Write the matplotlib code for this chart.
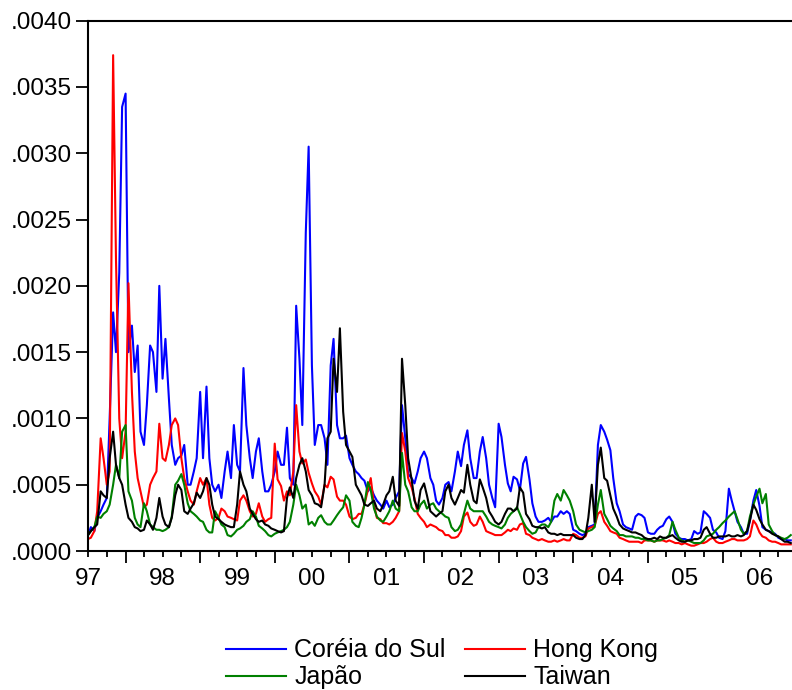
import numpy as np
import pandas as pd
import matplotlib
matplotlib.use("Agg")
import matplotlib.pyplot as plt
import matplotlib.dates as mdates
from matplotlib.ticker import FuncFormatter, MultipleLocator, NullFormatter

plt.rcParams['font.family'] = ['Liberation Sans', 'DejaVu Sans']

# semi-monthly observation dates (1st and 15th of each month)
dates = pd.date_range('1997-07-01', periods=227, freq='SMS')

# values in units of 1e-4
korea = [
    1.2, 1.8, 1.5, 2.5, 3.0, 3.5, 4.0, 10, 18, 15,
    21, 33.5, 34.5, 15, 17, 13.5, 15.5, 9, 8, 11,
    15.5, 15, 12, 20, 13, 16, 11.5, 8, 6.5, 7,
    7.2, 8, 5, 5, 6, 7, 12, 7, 12.4, 7,
    5, 4.5, 5, 4, 6, 7.5, 5.5, 9.5, 6.5, 6,
    13.8, 9.5, 7, 5.5, 7.5, 8.5, 6, 4.5, 4.5, 5,
    6, 7.5, 6.5, 6.5, 9.3, 5.5, 5, 18.5, 14.5, 9.5,
    24, 30.5, 14, 8, 9.5, 9.5, 8.5, 6.5, 14, 16,
    9.5, 8.5, 8.5, 8.7, 7, 6.5, 6, 5.8, 5.5, 5.3,
    4.5, 4.8, 4.2, 3.8, 3.5, 3.2, 3.8, 3.3, 3.5, 4.0,
    4.5, 11, 8.5, 5.8, 5.5, 5.1, 6.0, 7.0, 7.5, 7.0,
    5.5, 5.0, 3.8, 3.5, 4.0, 5.0, 5.2, 4.5, 6.0, 7.5,
    6.4, 8.0, 9.1, 7.0, 5.5, 5.5, 7.5, 8.6, 7.0, 5.0,
    4.0, 3.3, 9.6, 8.6, 6.5, 5.1, 4.5, 5.6, 5.4, 4.6,
    6.6, 7.1, 5.4, 3.6, 2.6, 2.2, 2.2, 2.3, 2.5, 2.2,
    2.6, 2.6, 3.0, 2.8, 3.0, 2.8, 1.6, 1.5, 1.3, 1.2,
    1.3, 1.8, 1.9, 2.0, 8.0, 9.5, 9.0, 8.4, 7.6, 5.5,
    3.6, 3.0, 2.0, 1.8, 1.7, 1.6, 2.6, 2.8, 2.7, 2.5,
    1.4, 1.3, 1.3, 1.6, 1.8, 1.9, 2.4, 2.6, 2.2, 1.3,
    1.0, 0.9, 0.9, 0.8, 0.9, 1.5, 1.3, 1.4, 3.0, 2.8,
    2.5, 1.6, 1.4, 1.0, 0.9, 1.5, 4.7, 3.8, 3.0, 2.2,
    1.8, 1.3, 1.3, 2.3, 3.8, 4.6, 3.4, 1.8, 1.6, 1.5,
    1.4, 1.3, 1.0, 0.9, 0.9, 0.8, 0.8,
]

hong_kong = [
    0.9, 1.0, 1.5, 3, 8.5, 7, 5, 6, 37.4, 22,
    10, 7, 9, 20.2, 12, 7.5, 5.5, 4.5, 3.3, 3.5,
    5, 5.5, 6, 9.6, 7, 6.8, 8, 9.5, 10, 9.5,
    7, 5.5, 4.5, 3.8, 3.5, 4.5, 5.5, 5, 5.5, 3.5,
    2.5, 2.3, 2.5, 3.2, 3.0, 2.6, 2.5, 2.4, 2.3, 3.8,
    4.2, 3.8, 3.0, 2.6, 2.8, 3.6, 2.6, 2.2, 2.4, 2.5,
    8.1, 5.4, 4.9, 3.8, 4.5, 4.2, 6, 11, 7.5, 6.6,
    6.9, 5.9, 5.1, 4.5, 4.1, 3.5, 5.0, 4.8, 5.6, 5.4,
    4.1, 3.8, 3.8, 3.5, 2.6, 2.4, 2.5, 2.8, 2.8, 3.5,
    4.6, 5.5, 3.5, 2.5, 2.4, 2.1, 2.1, 2.0, 2.2, 2.5,
    3.0, 8.9, 7.5, 5.5, 4.8, 4.0, 2.8, 2.5, 2.2, 1.8,
    2.0, 1.9, 1.8, 1.6, 1.5, 1.2, 1.2, 1.0, 1.0, 1.1,
    1.5, 2.6, 2.9, 2.2, 1.9, 2.0, 2.6, 2.2, 1.5, 1.4,
    1.3, 1.2, 1.2, 1.2, 1.4, 1.6, 1.5, 1.7, 1.6, 2.0,
    2.1, 1.3, 1.2, 1.0, 0.9, 0.8, 0.9, 0.8, 0.7, 0.7,
    0.8, 0.7, 0.8, 0.9, 0.8, 0.8, 1.3, 1.2, 1.0, 1.0,
    1.1, 1.7, 1.8, 1.9, 2.8, 3.0, 2.2, 1.9, 1.5, 1.4,
    1.3, 1.0, 0.9, 0.8, 0.7, 0.7, 0.7, 0.7, 0.6, 0.8,
    0.8, 0.8, 0.7, 0.8, 0.8, 0.8, 0.7, 0.8, 0.7, 0.6,
    0.6, 0.5, 0.6, 0.5, 0.4, 0.4, 0.5, 0.6, 0.6, 0.7,
    0.9, 1.0, 0.7, 0.6, 0.6, 0.7, 0.8, 0.9, 0.9, 0.8,
    0.8, 0.8, 0.9, 1.1, 2.3, 2.0, 1.4, 1.1, 1.0, 0.8,
    0.7, 0.7, 0.6, 0.5, 0.5, 0.5, 0.5,
]

japao = [
    1.2, 1.5, 1.8, 2.6, 2.5, 2.8, 3.0, 3.5, 5.0, 6.5,
    5.5, 9.0, 9.5, 4.5, 3.8, 2.5, 2.0, 1.8, 3.6, 3.0,
    2.0, 1.8, 1.6, 1.6, 1.5, 1.6, 1.8, 2.6, 5.0, 5.3,
    5.8, 5.0, 3.6, 3.0, 2.8, 2.6, 2.3, 2.2, 1.6, 1.4,
    1.4, 3.0, 2.5, 2.0, 1.8, 1.2, 1.1, 1.3, 1.6, 1.7,
    1.9, 2.2, 2.4, 3.0, 2.6, 1.9, 1.7, 1.5, 1.2, 1.1,
    1.3, 1.4, 1.5, 1.6, 1.8, 2.2, 3.5, 5.0, 4.2, 3.2,
    3.5, 2.0, 2.2, 1.9, 2.5, 2.7, 2.2, 2.0, 2.0, 2.3,
    2.7, 3.0, 3.3, 4.2, 3.8, 2.2, 1.9, 1.8, 2.5, 3.5,
    5.2, 4.6, 3.2, 2.6, 2.3, 2.2, 2.6, 3.0, 3.8, 3.2,
    3.0, 7.4, 5.0, 4.5, 3.3, 3.0, 3.0, 3.5, 3.8, 3.2,
    3.5, 3.6, 3.2, 3.0, 2.8, 2.6, 2.5, 1.8, 1.5, 1.6,
    2.0, 2.8, 3.8, 3.2, 3.0, 3.0, 3.0, 3.0, 2.6, 2.2,
    2.0, 1.9, 1.8, 1.7, 2.0, 2.5, 2.8, 3.0, 3.3, 2.8,
    2.2, 1.8, 1.5, 1.3, 1.4, 1.8, 2.0, 2.0, 1.8, 2.2,
    3.8, 4.3, 3.8, 4.6, 4.2, 3.8, 3.0, 2.0, 1.6, 1.5,
    1.4, 1.5, 1.6, 1.8, 3.5, 4.6, 2.8, 2.4, 1.9, 1.7,
    1.5, 1.2, 1.2, 1.1, 1.1, 1.1, 1.0, 1.0, 0.9, 0.9,
    0.8, 0.8, 0.7, 0.8, 0.8, 0.9, 1.0, 1.2, 2.2, 1.6,
    1.0, 0.8, 0.7, 0.8, 0.7, 0.6, 0.6, 0.6, 0.8, 1.1,
    1.2, 1.3, 1.6, 1.8, 2.1, 2.3, 2.6, 2.8, 3.0, 2.4,
    1.6, 1.3, 1.5, 2.6, 3.5, 4.1, 4.7, 3.6, 4.3, 2.0,
    1.5, 1.2, 1.1, 1.0, 0.9, 1.0, 1.2,
]

taiwan = [
    1.2, 1.5, 1.8, 2.0, 4.5, 4.2, 4.0, 7.0, 9.0, 6.5,
    5.5, 5.0, 3.5, 2.5, 2.2, 1.8, 1.7, 1.5, 1.6, 2.3,
    2.0, 1.6, 2.5, 4.0, 2.6, 2.0, 1.8, 2.5, 4.2, 5.0,
    4.6, 3.0, 2.8, 3.2, 3.6, 4.4, 4.0, 4.5, 5.5, 5.0,
    3.5, 2.6, 2.4, 2.2, 2.0, 1.9, 1.8, 1.8, 3.5, 6.0,
    5.0, 4.5, 3.2, 2.8, 2.4, 2.2, 2.3, 2.0, 1.9, 1.7,
    1.6, 1.5, 1.4, 1.5, 4.0, 4.8, 4.0, 5.5, 6.5, 7.0,
    6.0, 4.6, 4.2, 3.6, 3.5, 3.3, 5.0, 8.5, 9.0, 14.5,
    12.0, 16.8, 10.5, 8.0, 7.5, 7.1, 5.0, 4.6, 4.2, 3.5,
    3.4, 3.6, 3.8, 3.2, 3.0, 3.5, 4.2, 4.5, 5.6, 3.8,
    3.4, 14.5, 11.0, 7.0, 5.4, 3.8, 3.2, 4.6, 5.1, 4.2,
    3.0, 2.8, 2.6, 2.8, 3.0, 4.5, 5.0, 4.0, 3.5, 4.0,
    4.6, 4.4, 6.5, 5.0, 3.8, 3.6, 5.4, 4.8, 4.0, 3.0,
    2.6, 2.2, 2.0, 2.2, 2.8, 3.2, 3.2, 3.0, 3.2, 4.8,
    4.4, 2.8, 2.4, 1.9, 1.8, 1.8, 1.7, 1.8, 1.4, 1.3,
    1.3, 1.2, 1.3, 1.2, 1.2, 1.2, 1.2, 1.0, 0.9, 0.9,
    1.2, 2.5, 5.0, 2.2, 6.5, 7.8, 5.5, 5.3, 4.2, 3.2,
    2.6, 2.0, 1.7, 1.6, 1.5, 1.4, 1.4, 1.3, 1.2, 1.0,
    0.9, 0.9, 1.0, 0.9, 1.1, 1.0, 1.0, 1.1, 1.2, 1.0,
    0.8, 0.7, 0.7, 0.8, 0.8, 0.9, 0.9, 1.0, 1.6, 1.8,
    1.3, 1.0, 1.0, 1.1, 1.1, 1.1, 1.2, 1.1, 1.1, 1.2,
    1.1, 1.2, 1.5, 2.3, 3.5, 3.1, 2.4, 2.0, 1.6, 1.5,
    1.3, 1.2, 1.1, 0.9, 0.7, 0.7, 0.6,
]

SCALE = 1e-4
series_names = ['Coréia do Sul', 'Hong Kong', 'Japão', 'Taiwan']
series_values = [korea, hong_kong, japao, taiwan]
series_colors = ['#0000FF', '#FF0000', '#008000', '#000000']

fig = plt.figure(figsize=(7.92, 6.9), dpi=100)
ax = fig.add_axes([88 / 792, 139 / 690, 704 / 792, 530.3 / 690])

handles = {}
for name, vals, col in zip(series_names, series_values, series_colors):
    ln, = ax.plot(dates, np.array(vals) * SCALE, color=col, lw=1.5, label=name)
    handles[name] = ln

ax.set_ylim(0, 0.004)
ax.set_xlim(pd.Timestamp('1997-07-01'), pd.Timestamp('2006-12-07'))

ax.yaxis.set_major_locator(MultipleLocator(0.0005))
ax.yaxis.set_major_formatter(FuncFormatter(lambda v, p: f"{v:.4f}"[1:] if v >= 0 else f"{v:.4f}"))

ax.xaxis.set_major_locator(mdates.YearLocator(1, month=1, day=1))
ax.xaxis.set_major_formatter(NullFormatter())
ax.xaxis.set_minor_locator(mdates.MonthLocator(bymonth=[4, 7, 10], bymonthday=1))


def minor_fmt(x, pos):
    d = mdates.num2date(x)
    return d.strftime('%y') if d.month == 7 else ''


ax.xaxis.set_minor_formatter(FuncFormatter(minor_fmt))

ax.tick_params(axis='x', which='major', length=8.6, width=1.3, direction='out')
ax.tick_params(axis='x', which='minor', length=4.3, width=1.3, direction='out',
               labelsize=17.5, pad=8)
ax.tick_params(axis='y', which='major', length=8.6, width=1.3, direction='out',
               labelsize=17.5, pad=3, right=False)

for s in ['left', 'bottom', 'top']:
    ax.spines[s].set_linewidth(1.5)
ax.spines['right'].set_visible(False)

order = ['Coréia do Sul', 'Japão', 'Hong Kong', 'Taiwan']
fig.legend([handles[n] for n in order], order, loc='center',
           bbox_to_anchor=(0.558, 0.038), ncol=2, frameon=False,
           fontsize=18, handlelength=2.4, handletextpad=0.35,
           columnspacing=0.75, labelspacing=0.12)

fig.savefig('out.png', dpi=100)
